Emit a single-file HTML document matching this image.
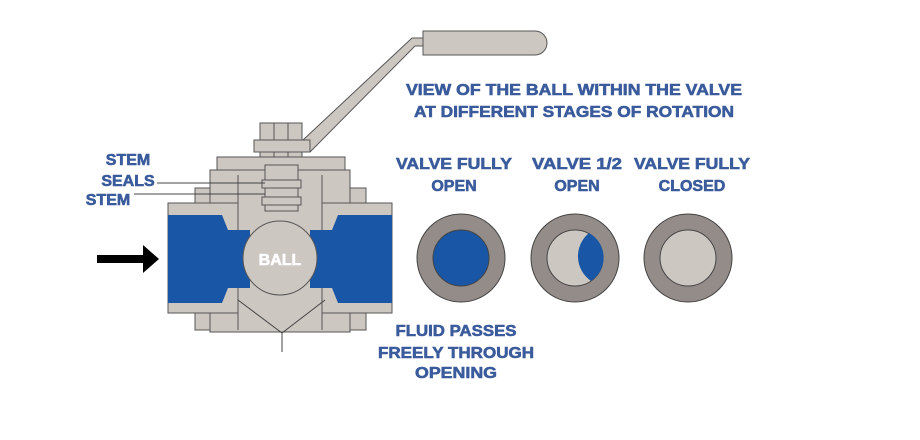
<!DOCTYPE html>
<html><head><meta charset="utf-8"><style>
html,body{margin:0;padding:0;background:#fff;}
svg{display:block;}
text{font-family:"Liberation Sans",sans-serif;font-weight:bold;fill:#3a5b9c;stroke:#3a5b9c;stroke-width:0.6;}
</style></head><body>
<svg width="920" height="440" viewBox="0 0 920 440" xmlns="http://www.w3.org/2000/svg">
<g stroke="#555" stroke-width="1" fill="#cdc7c2">
  <path d="M423 31 H535 A12 12 0 0 1 535 55 H423 Z"/>
  <polygon points="412,38 423,38 423,46 415,46 310,152 254,152 254,140 303,140"/>
  <rect x="260" y="123" width="42" height="42"/>
  <line x1="274" y1="123" x2="274" y2="165"/><line x1="288" y1="123" x2="288" y2="165"/>
  <rect x="254" y="140" width="56" height="12"/>
  <rect x="195" y="188" width="16" height="20"/><rect x="350" y="188" width="16" height="20"/>
  <rect x="195" y="310" width="16" height="20"/><rect x="350" y="310" width="16" height="20"/>
  <rect x="217" y="157" width="128" height="14"/>
  <rect x="210" y="170" width="140" height="162"/>
  <rect x="168" y="203" width="70" height="110"/>
  <rect x="322" y="203" width="70" height="110"/>
  <rect x="265" y="165" width="33" height="46"/>
  <rect x="262" y="180" width="39" height="8"/>
  <rect x="262" y="197" width="39" height="8"/>
  <line x1="238" y1="175" x2="238" y2="330"/><line x1="322" y1="175" x2="322" y2="330"/>
</g>
<path d="M168 215 H222 L228 230 H250 V288 H228 L222 303 H168 Z" fill="#1a56a6"/>
<path d="M392 215 H338 L332 230 H310 V288 H332 L338 303 H392 Z" fill="#1a56a6"/>
<circle cx="280" cy="258" r="37" fill="#cdc7c2" stroke="#555" stroke-width="1"/>
<text x="280" y="265" text-anchor="middle" font-size="16" style="fill:#fff;stroke:#fff">BALL</text>
<polyline points="238,300 282,333 325,300" fill="none" stroke="#444" stroke-width="1"/>
<line x1="282" y1="333" x2="282" y2="352" stroke="#444" stroke-width="1"/>
<line x1="157" y1="183" x2="265" y2="183" stroke="#444" stroke-width="1"/>
<line x1="134" y1="194" x2="265" y2="194" stroke="#444" stroke-width="1"/>
<polygon points="97,255 143,255 143,245 159,259 143,273 143,263 97,263" fill="#000"/>
<g stroke="#444" stroke-width="1">
  <circle cx="461" cy="258" r="44" fill="#948c89"/>
  <circle cx="461" cy="258" r="28" fill="#1a56a6"/>
  <circle cx="575" cy="258" r="44" fill="#948c89"/>
  <circle cx="575" cy="258" r="28" fill="#cdc7c2"/>
  <circle cx="688" cy="258" r="44" fill="#948c89"/>
  <circle cx="688" cy="258" r="28" fill="#cdc7c2"/>
</g>
<path d="M589 233 A28 28 0 0 1 591 281 A30 30 0 0 1 589 233 Z" fill="#1a56a6"/>
<text x="128" y="165" text-anchor="middle" font-size="16">STEM</text>
<text x="128" y="186" text-anchor="middle" font-size="16">SEALS</text>
<text x="108" y="205" text-anchor="middle" font-size="16">STEM</text>
<text x="574" y="95" text-anchor="middle" font-size="16" textLength="336" lengthAdjust="spacingAndGlyphs">VIEW OF THE BALL WITHIN THE VALVE</text>
<text x="574" y="117" text-anchor="middle" font-size="16" textLength="320" lengthAdjust="spacingAndGlyphs">AT DIFFERENT STAGES OF ROTATION</text>
<text x="454" y="169" text-anchor="middle" font-size="16" textLength="116" lengthAdjust="spacingAndGlyphs">VALVE FULLY</text>
<text x="454" y="191" text-anchor="middle" font-size="16">OPEN</text>
<text x="577" y="169" text-anchor="middle" font-size="16" textLength="90" lengthAdjust="spacingAndGlyphs">VALVE 1/2</text>
<text x="577" y="191" text-anchor="middle" font-size="16">OPEN</text>
<text x="692" y="169" text-anchor="middle" font-size="16" textLength="116" lengthAdjust="spacingAndGlyphs">VALVE FULLY</text>
<text x="692" y="191" text-anchor="middle" font-size="16">CLOSED</text>
<text x="456" y="336" text-anchor="middle" font-size="16" textLength="121" lengthAdjust="spacingAndGlyphs">FLUID PASSES</text>
<text x="456" y="358" text-anchor="middle" font-size="16" textLength="156" lengthAdjust="spacingAndGlyphs">FREELY THROUGH</text>
<text x="456" y="378" text-anchor="middle" font-size="16" textLength="82" lengthAdjust="spacingAndGlyphs">OPENING</text>
</svg>
</body></html>
